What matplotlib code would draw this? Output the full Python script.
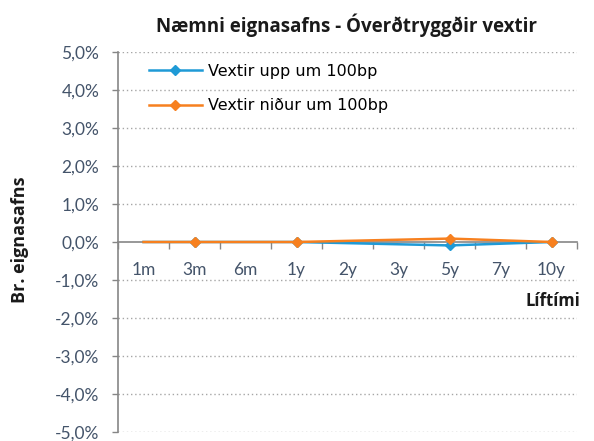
import matplotlib
matplotlib.use("Agg")
import matplotlib.pyplot as plt
from matplotlib.ticker import FuncFormatter, FixedLocator

plt.rcParams['font.family'] = ['Lato', 'DejaVu Sans']

categories = ["1m", "3m", "6m", "1y", "2y", "3y", "5y", "7y", "10y"]
# category index where each series has a point
point_idx = [0, 1, 3, 6, 8]
vextir_upp = [0.0, 0.0, 0.0, -0.0009, 0.0]
vextir_nidur = [0.0, 0.0, 0.0, 0.0009, 0.0]
yticks = [-0.05, -0.04, -0.03, -0.02, -0.01, 0.0, 0.01, 0.02, 0.03, 0.04, 0.05]

label_col = "#44546a"
axis_col = "#868686"
bold_font = ['Open Sans', 'DejaVu Sans']

W, H = 594, 441
fig = plt.figure(figsize=(W / 100, H / 100), dpi=100)
ax = fig.add_axes([118 / W, 1 - 432 / H, (577 - 118) / W, (432 - 52) / H])

ax.plot(point_idx, vextir_upp, color="#1f9ad6", lw=1.8, marker="D", ms=5.5,
        markevery=[1, 2, 3, 4], label="Vextir upp um 100bp", zorder=3)
ax.plot(point_idx, vextir_nidur, color="#f7801f", lw=1.8, marker="D", ms=5.5,
        markevery=[1, 2, 3, 4], label="Vextir niður um 100bp", zorder=4)

ax.set_xlim(-0.5, len(categories) - 0.5)
ax.set_ylim(-0.05, 0.05)

# dotted gridlines, the 0 line is the x axis itself
for y in yticks:
    if y != 0:
        ax.axhline(y, color="#a6a6a6", lw=1, ls=(0, (1, 2)), zorder=1)

ax.set_yticks(yticks)
ax.yaxis.set_major_formatter(FuncFormatter(lambda v, p: f"{v * 100:.1f}%".replace(".", ",").replace("-0,0", "0,0")))
ax.tick_params(axis="y", colors=axis_col, labelcolor=label_col, labelsize=12.5, length=4, width=1, pad=9.5)

ax.spines["bottom"].set_position(("data", 0))
for s in ["top", "right"]:
    ax.spines[s].set_visible(False)
for s in ["left", "bottom"]:
    ax.spines[s].set_color(axis_col)
    ax.spines[s].set_linewidth(1.2)

ax.xaxis.set_major_locator(FixedLocator([i + 0.5 for i in range(-1, len(categories))]))
ax.xaxis.set_major_formatter(FuncFormatter(lambda v, p: ""))
ax.xaxis.set_minor_locator(FixedLocator(list(range(len(categories)))))
ax.set_xticklabels(categories, minor=True)
ax.tick_params(axis="x", which="major", colors=axis_col, length=5, width=1, direction="out")
ax.tick_params(axis="x", which="minor", length=0, labelcolor=label_col, labelsize=12.5, pad=14.5)

fig.text(347 / W, 1 - 25 / H, "Næmni eignasafns - Óverðtryggðir vextir", ha="center", va="center",
         fontsize=13.5, fontweight="bold", color="#1a1a1a", family=bold_font)
fig.text(20 / W, 1 - 240 / H, "Br. eignasafns", rotation=90, ha="center", va="center",
         fontsize=13, fontweight="bold", color="#1a1a1a", family=bold_font)
fig.text(580 / W, 1 - 301 / H, "Líftími", ha="right", va="center",
         fontsize=12, fontweight="bold", color="#1a1a1a", family=bold_font)

ax.legend(loc="upper left", bbox_to_anchor=(149 / W, 1 - 64 / H), bbox_transform=fig.transFigure,
          frameon=False, prop={"family": "DejaVu Sans", "size": 11.5},
          handlelength=3.3, handletextpad=0.4, labelspacing=1.2, borderpad=0, borderaxespad=0)

fig.savefig("out.png", dpi=100)
